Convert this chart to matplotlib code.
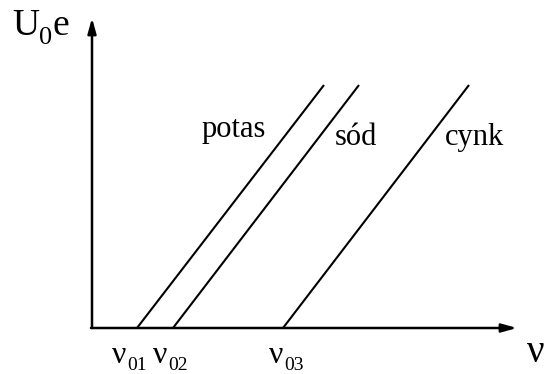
import matplotlib
matplotlib.use("Agg")
import matplotlib.pyplot as plt

plt.rcParams['font.family'] = ['Liberation Serif', 'DejaVu Serif']

# Data (arbitrary units)
metals = ["potas", "sód", "cynk"]
nu_start = [4.5, 8.1, 19.1]       # threshold frequencies (U=0)
nu_end = [23.2, 26.7, 37.7]       # frequency at top of line
U_end = [24.3, 24.3, 24.3]
nu_subs = ["01", "02", "03"]
label_pos = [(11.0, 19.1), (24.3, 18.3), (35.3, 18.3)]
nu_label_x = [2.0, 6.1, 17.7]

fig = plt.figure(figsize=(5.47, 3.74), dpi=100)
ax = fig.add_axes([0, 0, 1, 1])
ax.set_xlim(-9.2, 45.5)
ax.set_ylim(-4.6, 32.8)
ax.axis('off')

# axes with arrows
ax.annotate("", xy=(0, 31.0), xytext=(0, 0),
            arrowprops=dict(arrowstyle="-|>,head_length=0.9,head_width=0.25",
                            lw=1.8, color="black", shrinkA=0, shrinkB=0))
ax.annotate("", xy=(42.5, 0), xytext=(-0.1, 0),
            arrowprops=dict(arrowstyle="-|>,head_length=0.9,head_width=0.25",
                            lw=1.8, color="black", shrinkA=0, shrinkB=0))

for x0, x1, u1 in zip(nu_start, nu_end, U_end):
    ax.plot([x0, x1], [0, u1], color="black", lw=1.5, solid_capstyle="butt")

for name, (lx, ly) in zip(metals, label_pos):
    ax.text(lx, ly, name, fontsize=22, ha="left", va="baseline")

for sub, lx in zip(nu_subs, nu_label_x):
    t = ax.text(lx, -3.5, "ν", fontsize=23, ha="left", va="baseline")
    ax.annotate(sub, xy=(1, 0), xycoords=t, xytext=(0.5, -3),
                textcoords="offset points", fontsize=14, ha="left", va="bottom")

ax.text(43.5, -3.4, "ν", fontsize=28, ha="left", va="baseline")
tU = ax.text(-8.0, 29.3, "U", fontsize=27, ha="left", va="baseline")
t0 = ax.annotate("0", xy=(1, 0), xycoords=tU, xytext=(0, -4),
                 textcoords="offset points", fontsize=19, ha="left", va="bottom")
ax.annotate("e", xy=(1, 0), xycoords=(t0, tU), xytext=(0.3, 0),
            textcoords="offset points", fontsize=27, ha="left", va="bottom")

fig.savefig("out.png", dpi=100)
